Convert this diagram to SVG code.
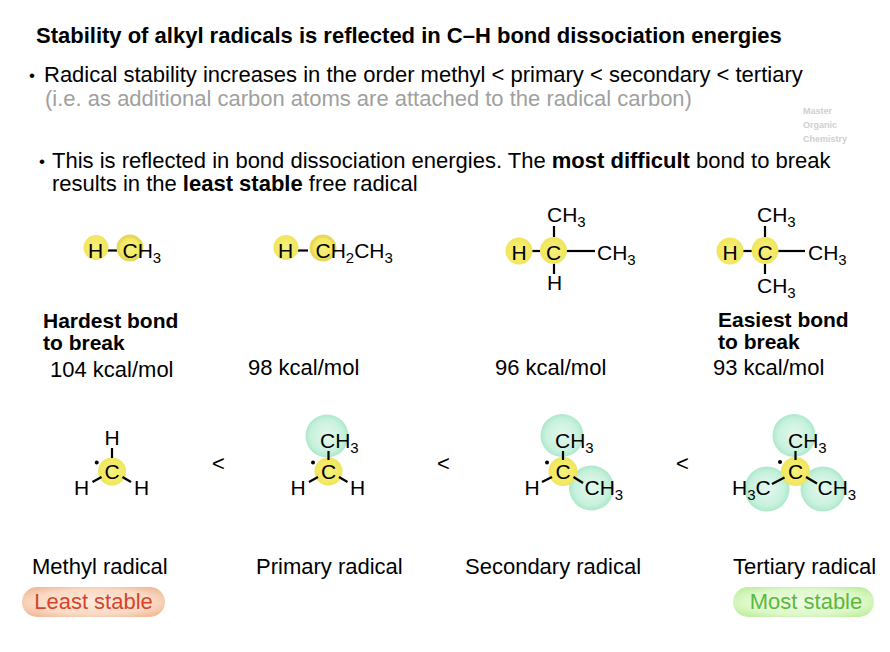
<svg xmlns="http://www.w3.org/2000/svg" width="890" height="652" viewBox="0 0 890 652">
<defs>
<radialGradient id="gY" cx="50%" cy="50%" r="50%">
<stop offset="0%" stop-color="#f8f27e"/>
<stop offset="100%" stop-color="#f0e55c"/>
</radialGradient>
<radialGradient id="gG" cx="50%" cy="50%" r="50%">
<stop offset="0%" stop-color="#e4f8ee"/>
<stop offset="75%" stop-color="#c8f1dd"/>
<stop offset="100%" stop-color="#ace9cb"/>
</radialGradient>
<radialGradient id="gR" cx="50%" cy="50%" r="60%">
<stop offset="0%" stop-color="#fdeadc"/>
<stop offset="70%" stop-color="#f9d9c3"/>
<stop offset="100%" stop-color="#f1bd9c"/>
</radialGradient>
<radialGradient id="gL" cx="50%" cy="50%" r="60%">
<stop offset="0%" stop-color="#effde4"/>
<stop offset="70%" stop-color="#ddf8c9"/>
<stop offset="100%" stop-color="#c2efa3"/>
</radialGradient>
</defs>
<style>
text{font-family:"Liberation Sans",Arial,Helvetica,sans-serif;fill:#000}
.t{font-size:22px}
.h{font-size:21px;font-weight:bold}
.b{font-weight:bold}
.m{font-size:21px}
.s{font-size:15px}
.d{font-size:17px}
.g{fill:#a0a0a0}
.w{font-size:9px;font-weight:bold;fill:#cfcfcf}
.bond{stroke:#000;stroke-width:2.2;fill:none}
.y{fill:url(#gY)}
.yr{fill:url(#gY);stroke:#e6d95a;stroke-width:3}
.gr{fill:url(#gG)}
</style>
<rect width="890" height="652" fill="#fff"/>

<g id="header">
<text class="t b" x="36" y="43">Stability of alkyl radicals is reflected in C–H bond dissociation energies</text>
<text class="d" x="29" y="81">•</text>
<text class="t" x="44" y="82">Radical stability increases in the order methyl &lt; primary &lt; secondary &lt; tertiary</text>
<text class="t g" x="45" y="106">(i.e. as additional carbon atoms are attached to the radical carbon)</text>
<text class="w" x="803" y="114">Master</text>
<text class="w" x="803" y="128">Organic</text>
<text class="w" x="803" y="142">Chemistry</text>
<text class="d" x="39" y="167">•</text>
<text class="t" x="52" y="168">This is reflected in bond dissociation energies. The <tspan class="b">most difficult</tspan> bond to break</text>
<text class="t" x="52" y="191">results in the <tspan class="b">least stable</tspan> free radical</text>
</g>

<g id="connectors">
<line class="bond" x1="106" y1="250.5" x2="117" y2="250.5"/>
<line class="bond" x1="296" y1="250.5" x2="308" y2="250.5"/>
<line class="bond" x1="528" y1="251" x2="540" y2="251"/>
<line class="bond" x1="554" y1="226" x2="554" y2="237"/>
<line class="bond" x1="554" y1="263" x2="554" y2="274"/>
<line class="bond" x1="566" y1="251" x2="595" y2="251"/>
<line class="bond" x1="739" y1="251" x2="752" y2="251"/>
<line class="bond" x1="765" y1="226" x2="765" y2="237"/>
<line class="bond" x1="765" y1="263" x2="765" y2="274"/>
<line class="bond" x1="778" y1="251" x2="805" y2="251"/>
</g>

<g id="mol-methane">
<circle class="y" cx="96" cy="247.5" r="12.5"/>
<circle class="yr" cx="130" cy="248" r="12"/>
<text class="m" x="88" y="258">H</text>
<text class="m" x="122.5" y="258">CH<tspan class="s" dy="5">3</tspan></text>
</g>

<g id="mol-ethane">
<circle class="y" cx="286" cy="247.5" r="12.5"/>
<circle class="yr" cx="323" cy="248" r="12"/>
<text class="m" x="278" y="258">H</text>
<text class="m" x="315.5" y="258">CH<tspan class="s" dy="5">2</tspan><tspan dy="-5">CH</tspan><tspan class="s" dy="5">3</tspan></text>
</g>

<g id="mol-propane">
<circle class="y" cx="519" cy="251" r="13.5"/>
<circle class="y" cx="553.5" cy="250.5" r="13.5"/>
<text class="m" x="511.5" y="259.5">H</text>
<text class="m" x="546" y="259.5">C</text>
<text class="m" x="547" y="222">CH<tspan class="s" dy="5">3</tspan></text>
<text class="m" x="547" y="290">H</text>
<text class="m" x="597" y="260">CH<tspan class="s" dy="5">3</tspan></text>
</g>

<g id="mol-isobutane">
<circle class="y" cx="730" cy="251" r="13.5"/>
<circle class="y" cx="765" cy="250.5" r="13.5"/>
<text class="m" x="722.5" y="259.5">H</text>
<text class="m" x="757.5" y="259.5">C</text>
<text class="m" x="757" y="222">CH<tspan class="s" dy="5">3</tspan></text>
<text class="m" x="757" y="293">CH<tspan class="s" dy="5">3</tspan></text>
<text class="m" x="808" y="260">CH<tspan class="s" dy="5">3</tspan></text>
</g>

<g id="bde-labels">
<text class="h" x="43" y="328">Hardest bond</text>
<text class="h" x="43" y="350">to break</text>
<text class="t" x="50" y="377">104 kcal/mol</text>
<text class="t" x="248" y="375">98 kcal/mol</text>
<text class="t" x="495" y="375">96 kcal/mol</text>
<text class="h" x="718" y="327">Easiest bond</text>
<text class="h" x="718" y="349">to break</text>
<text class="t" x="713" y="375">93 kcal/mol</text>
</g>

<g id="radical-methyl">
<circle class="y" cx="112" cy="471.5" r="14"/>
<line class="bond" x1="112" y1="448" x2="112" y2="458"/>
<line class="bond" x1="92.5" y1="482" x2="101.5" y2="477"/>
<line class="bond" x1="122.5" y1="477" x2="131" y2="482"/>
<circle cx="96.7" cy="462.5" r="2"/>
<text class="m" x="104.5" y="478.5">C</text>
<text class="m" x="104.5" y="445">H</text>
<text class="m" x="74" y="495">H</text>
<text class="m" x="134" y="495">H</text>
</g>

<text class="t" x="212" y="471">&lt;</text>

<g id="radical-primary">
<circle class="gr" cx="327" cy="436" r="21.5"/>
<circle class="y" cx="328.5" cy="471.5" r="14"/>
<line class="bond" x1="328.5" y1="451" x2="328.5" y2="460"/>
<line class="bond" x1="309" y1="482" x2="318" y2="477"/>
<line class="bond" x1="339" y1="477" x2="347.5" y2="482"/>
<circle cx="313" cy="462.5" r="2"/>
<text class="m" x="321" y="478.5">C</text>
<text class="m" x="320" y="448">CH<tspan class="s" dy="5">3</tspan></text>
<text class="m" x="290.5" y="495">H</text>
<text class="m" x="350" y="495">H</text>
</g>

<text class="t" x="437" y="471">&lt;</text>

<g id="radical-secondary">
<circle class="gr" cx="562" cy="435.5" r="21.5"/>
<circle class="gr" cx="591.5" cy="488" r="22.5"/>
<circle class="y" cx="563" cy="471.5" r="14.5"/>
<line class="bond" x1="563" y1="451" x2="563" y2="460"/>
<line class="bond" x1="542" y1="482" x2="552" y2="477"/>
<line class="bond" x1="573.5" y1="477" x2="583" y2="483"/>
<circle cx="547" cy="462.5" r="2"/>
<text class="m" x="555.5" y="478.5">C</text>
<text class="m" x="555" y="448">CH<tspan class="s" dy="5">3</tspan></text>
<text class="m" x="524.5" y="495">H</text>
<text class="m" x="584.5" y="495">CH<tspan class="s" dy="5">3</tspan></text>
</g>

<text class="t" x="676" y="471">&lt;</text>

<g id="radical-tertiary">
<circle class="gr" cx="794" cy="435.5" r="21.5"/>
<circle class="gr" cx="767" cy="489" r="22.5"/>
<circle class="gr" cx="823" cy="489" r="22.5"/>
<circle class="y" cx="795.5" cy="471.5" r="14.5"/>
<line class="bond" x1="795.5" y1="451" x2="795.5" y2="460"/>
<line class="bond" x1="772" y1="484" x2="784.5" y2="477.5"/>
<line class="bond" x1="806" y1="477" x2="817" y2="483.5"/>
<circle cx="780" cy="462" r="2"/>
<text class="m" x="788" y="478.5">C</text>
<text class="m" x="788" y="448">CH<tspan class="s" dy="5">3</tspan></text>
<text class="m" x="732" y="495">H<tspan class="s" dy="5">3</tspan><tspan dy="-5">C</tspan></text>
<text class="m" x="817.5" y="495">CH<tspan class="s" dy="5">3</tspan></text>
</g>

<g id="radical-labels">
<text class="t" x="32" y="574">Methyl radical</text>
<text class="t" x="256" y="574">Primary radical</text>
<text class="t" x="465" y="574">Secondary radical</text>
<text class="t" x="733" y="574">Tertiary radical</text>
</g>

<g id="pill-least">
<rect x="22" y="587" width="143" height="30" rx="15" fill="url(#gR)"/>
<text class="t" x="93.5" y="609" text-anchor="middle" style="fill:#d5452c">Least stable</text>
</g>

<g id="pill-most">
<rect x="733" y="587" width="141" height="30" rx="15" fill="url(#gL)"/>
<text class="t" x="806" y="609" text-anchor="middle" style="fill:#5cb840">Most stable</text>
</g>
</svg>
